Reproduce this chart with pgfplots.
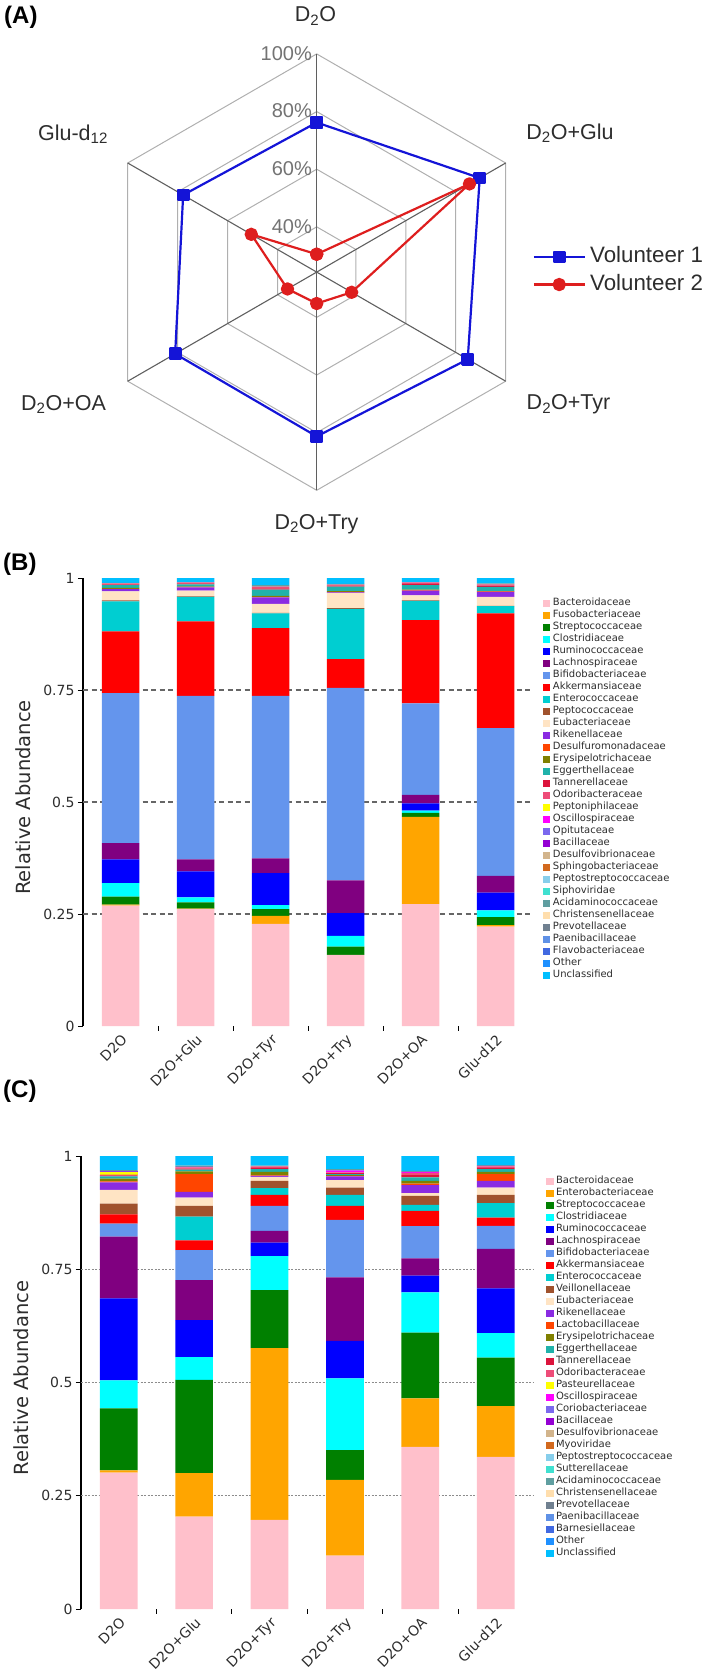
\documentclass[border=0pt]{standalone}
\usepackage{pgfplots}
\pgfplotsset{compat=1.18}
\usepackage{pgfplotstable}
\usepackage{fontspec}
\setmainfont{DejaVu Sans}
\newfontfamily\arial{Liberation Sans}

\definecolor{Bacteroidaceae}{RGB}{255,192,203}
\definecolor{Fusobacteriaceae}{RGB}{255,165,0}
\definecolor{Enterobacteriaceae}{RGB}{255,165,0}
\definecolor{Streptococcaceae}{RGB}{0,128,0}
\definecolor{Clostridiaceae}{RGB}{0,255,255}
\definecolor{Ruminococcaceae}{RGB}{0,0,255}
\definecolor{Lachnospiraceae}{RGB}{128,0,128}
\definecolor{Bifidobacteriaceae}{RGB}{100,149,237}
\definecolor{Akkermansiaceae}{RGB}{255,0,0}
\definecolor{Enterococcaceae}{RGB}{0,206,209}
\definecolor{Peptococcaceae}{RGB}{160,82,45}
\definecolor{Veillonellaceae}{RGB}{160,82,45}
\definecolor{Eubacteriaceae}{RGB}{255,228,196}
\definecolor{Rikenellaceae}{RGB}{138,43,226}
\definecolor{Desulfuromonadaceae}{RGB}{255,69,0}
\definecolor{Lactobacillaceae}{RGB}{255,69,0}
\definecolor{Erysipelotrichaceae}{RGB}{128,128,0}
\definecolor{Eggerthellaceae}{RGB}{32,178,170}
\definecolor{Tannerellaceae}{RGB}{220,20,60}
\definecolor{Odoribacteraceae}{RGB}{238,76,120}
\definecolor{Peptoniphilaceae}{RGB}{255,255,0}
\definecolor{Pasteurellaceae}{RGB}{255,255,0}
\definecolor{Oscillospiraceae}{RGB}{255,0,255}
\definecolor{Opitutaceae}{RGB}{123,104,238}
\definecolor{Coriobacteriaceae}{RGB}{123,104,238}
\definecolor{Bacillaceae}{RGB}{148,0,211}
\definecolor{Desulfovibrionaceae}{RGB}{210,180,140}
\definecolor{Sphingobacteriaceae}{RGB}{210,105,30}
\definecolor{Myoviridae}{RGB}{210,105,30}
\definecolor{Peptostreptococcaceae}{RGB}{135,206,235}
\definecolor{Siphoviridae}{RGB}{64,224,208}
\definecolor{Sutterellaceae}{RGB}{64,224,208}
\definecolor{Acidaminococcaceae}{RGB}{95,158,160}
\definecolor{Christensenellaceae}{RGB}{255,222,173}
\definecolor{Prevotellaceae}{RGB}{112,128,144}
\definecolor{Paenibacillaceae}{RGB}{95,145,230}
\definecolor{Flavobacteriaceae}{RGB}{65,105,225}
\definecolor{Barnesiellaceae}{RGB}{65,105,225}
\definecolor{Other}{RGB}{30,144,255}
\definecolor{Unclassified}{RGB}{0,191,255}

\definecolor{volA}{RGB}{20,20,215}
\definecolor{volB}{RGB}{222,30,30}
\definecolor{hexgray}{RGB}{175,175,175}
\definecolor{spokegray}{RGB}{95,95,95}
\definecolor{pctgray}{RGB}{115,115,115}
\definecolor{txt}{RGB}{45,45,45}

\newcommand{\fb}[7]{\addplot[fill=#1, draw=none] coordinates {(0,#2) (1,#3) (2,#4) (3,#5) (4,#6) (5,#7)}; \addlegendentry{#1}}

\pgfplotsset{
  ybar legend/.style={legend image code/.code={\fill[##1] (0bp,-3.65bp) rectangle (7.3bp,3.65bp);}},
  barpanel/.style={
    scale only axis, xmin=-0.5, xmax=5.5, ymin=0, ymax=1,
    ybar stacked, bar width=0.5, clip=false,
    axis lines*=left,
    x axis line style={draw=none},
    y axis line style={line width=1.3bp, black},
    xtick={0,1,2,3,4,5},
    xticklabels={D2O,D2O+Glu,D2O+Tyr,D2O+Try,D2O+OA,Glu-d12},
    xtick style={draw=none},
    ytick={0,0.25,0.5,0.75,1},
    yticklabels={0,0.25,0.5,0.75,1},
    ytick style={line width=1bp, black},
    tick align=outside, major tick length=5bp,
    tick label style={font=\fontsize{14bp}{16bp}\selectfont, text=txt},
    xticklabel style={rotate=45, anchor=north east, inner sep=1.5bp},
    ylabel={Relative Abundance},
    ylabel style={font=\fontsize{19.5bp}{22bp}\selectfont, text=txt, at={(axis description cs:-0.133,0.51)}, anchor=center},
    extra y ticks={0.25,0.5,0.75},
    extra y tick labels={},
    legend cell align=left,
    legend image code/.code={\fill[##1] (0bp,-3.65bp) rectangle (7.3bp,3.65bp);},
    legend style={draw=none, fill=none, anchor=north west, inner sep=0pt, row sep=2bp,
      font=\fontsize{10bp}{12bp}\selectfont, text=txt,
      nodes={inner ysep=0pt, inner xsep=2.5bp, text height=7.5bp, text depth=2.5bp}},
  }
}

\pgfplotstableread{
ang v1 v2
90 76.2 30.5
30 89.6 85.5
-30 84.8 38.3
-90 81.3 35.2
-150 81.0 36.0
150 77.8 50.5
90 76.2 30.5
}\radar

\begin{document}
\begin{tikzpicture}
\path[use as bounding box] (0,0) rectangle (709bp,-1672bp);

% ---------------- Panel A: radar ----------------
\begin{axis}[
  at={(98.5bp,-490.3bp)}, anchor=south west, scale only axis,
  width=436.4bp, height=436.4bp,
  xmin=-75.7, xmax=75.7, ymin=-75.7, ymax=75.7,
  hide axis, clip=false,
  legend style={draw=none, fill=none, at={(axis description cs:0.9947,0.503)}, anchor=west,
    inner sep=0pt, row sep=7bp, font=\arial\fontsize{22.3bp}{26bp}\selectfont, text=txt,
    nodes={inner ysep=0pt, inner xsep=4.5bp, text height=16bp, text depth=4.5bp}},
  legend cell align=left,
  legend image code/.code={\draw[mark repeat=2,mark phase=2,#1] plot coordinates {(0bp,0bp) (25.35bp,0bp) (50.7bp,0bp)};},
]
\addplot[forget plot, draw=hexgray, line width=1bp, data cs=polar] coordinates {(90,75.7) (30,75.7) (-30,75.7) (-90,75.7) (-150,75.7) (150,75.7) (90,75.7)};
\addplot[forget plot, draw=hexgray, line width=1bp, data cs=polar] coordinates {(90,55.7) (30,55.7) (-30,55.7) (-90,55.7) (-150,55.7) (150,55.7) (90,55.7)};
\addplot[forget plot, draw=hexgray, line width=1bp, data cs=polar] coordinates {(90,35.7) (30,35.7) (-30,35.7) (-90,35.7) (-150,35.7) (150,35.7) (90,35.7)};
\addplot[forget plot, draw=hexgray, line width=1bp, data cs=polar] coordinates {(90,15.7) (30,15.7) (-30,15.7) (-90,15.7) (-150,15.7) (150,15.7) (90,15.7)};
\addplot[forget plot, draw=spokegray, line width=1.1bp, data cs=polar] coordinates {(90,75.7) (-90,75.7)};
\addplot[forget plot, draw=spokegray, line width=1.1bp, data cs=polar] coordinates {(30,75.7) (-150,75.7)};
\addplot[forget plot, draw=spokegray, line width=1.1bp, data cs=polar] coordinates {(150,75.7) (-30,75.7)};
\addplot[volA, line width=2.2bp, line join=round, mark=square*, mark size=5.3bp, mark options={solid, fill=volA}, data cs=polar]
  table[x=ang, y expr=\thisrow{v1}-24.3]{\radar};
\addlegendentry{Volunteer 1}
\addplot[volB, line width=2.2bp, line join=round, mark=*, mark size=5.6bp, mark options={solid, fill=volB}, data cs=polar]
  table[x=ang, y expr=\thisrow{v2}-24.3]{\radar};
\addlegendentry{Volunteer 2}
\end{axis}

\begin{scope}[every node/.style={font=\arial\fontsize{21.5bp}{25bp}\selectfont, text=txt}]
\node at (315.5bp,-16bp) {D\textsubscript{2}O};
\node at (570bp,-133bp) {D\textsubscript{2}O+Glu};
\node at (568.5bp,-404.5bp) {D\textsubscript{2}O+Tyr};
\node at (316.5bp,-524bp) {D\textsubscript{2}O+Try};
\node at (63.5bp,-404.5bp) {D\textsubscript{2}O+OA};
\node at (73bp,-134bp) {Glu-d\textsubscript{12}};
\end{scope}
\begin{scope}[every node/.style={font=\arial\fontsize{20bp}{22bp}\selectfont, text=pctgray, anchor=east, inner sep=0pt}]
\node at (312bp,-53.6bp) {100\%};
\node at (312bp,-110.7bp) {80\%};
\node at (312bp,-169bp) {60\%};
\node at (312bp,-226.8bp) {40\%};
\end{scope}

\node[anchor=north west, inner sep=0pt, font=\arial\bfseries\fontsize{24bp}{26bp}\selectfont] at (4bp,-6bp) {(A)};
\node[anchor=north west, inner sep=0pt, font=\arial\bfseries\fontsize{24bp}{26bp}\selectfont] at (3bp,-553bp) {(B)};
\node[anchor=north west, inner sep=0pt, font=\arial\bfseries\fontsize{24bp}{26bp}\selectfont] at (3bp,-1080bp) {(C)};

% ---------------- Panel B ----------------
\begin{axis}[barpanel,
  at={(83bp,-1026bp)}, anchor=south west, width=450bp, height=448bp,
  extra y tick style={grid=major, major grid style={draw=black!60, line width=1.3bp, dash pattern=on 5bp off 3.5bp}},
  legend style={at={(axis description cs:1.0222,0.9554)}},
]
\fb{Bacteroidaceae}{0.269}{0.261}{0.228}{0.159}{0.272}{0.222}
\fb{Fusobacteriaceae}{0.002}{0.001}{0.018}{0}{0.195}{0.003}
\fb{Streptococcaceae}{0.018}{0.014}{0.015}{0.018}{0.009}{0.018}
\fb{Clostridiaceae}{0.030}{0.011}{0.009}{0.024}{0.005}{0.015}
\fb{Ruminococcaceae}{0.053}{0.058}{0.071}{0.051}{0.016}{0.040}
\fb{Lachnospiraceae}{0.036}{0.027}{0.033}{0.073}{0.019}{0.037}
\fb{Bifidobacteriaceae}{0.335}{0.365}{0.363}{0.430}{0.204}{0.330}
\fb{Akkermansiaceae}{0.138}{0.166}{0.151}{0.064}{0.186}{0.256}
\fb{Enterococcaceae}{0.067}{0.055}{0.033}{0.112}{0.043}{0.016}
\fb{Peptococcaceae}{0.002}{0.001}{0.001}{0.002}{0.001}{0.001}
\fb{Eubacteriaceae}{0.020}{0.013}{0.020}{0.033}{0.011}{0.020}
\fb{Rikenellaceae}{0.005}{0.007}{0.015}{0.002}{0.011}{0.011}
\fb{Desulfuromonadaceae}{0.001}{0.001}{0.001}{0.001}{0.001}{0.001}
\fb{Erysipelotrichaceae}{0.002}{0.001}{0.002}{0.002}{0.001}{0.001}
\fb{Eggerthellaceae}{0.006}{0.005}{0.014}{0.010}{0.010}{0.009}
\fb{Tannerellaceae}{0.002}{0.002}{0.003}{0.002}{0.003}{0.003}
\fb{Odoribacteraceae}{0.002}{0.002}{0.004}{0.002}{0.003}{0.003}
\fb{Peptoniphilaceae}{0}{0}{0}{0}{0}{0}
\fb{Oscillospiraceae}{0}{0}{0}{0}{0}{0}
\fb{Opitutaceae}{0}{0}{0}{0}{0}{0}
\fb{Bacillaceae}{0}{0}{0}{0}{0}{0}
\fb{Desulfovibrionaceae}{0}{0}{0}{0}{0}{0}
\fb{Sphingobacteriaceae}{0}{0}{0}{0}{0}{0}
\fb{Peptostreptococcaceae}{0}{0}{0}{0}{0}{0}
\fb{Siphoviridae}{0}{0}{0}{0}{0}{0}
\fb{Acidaminococcaceae}{0.001}{0}{0.003}{0.002}{0}{0.002}
\fb{Christensenellaceae}{0}{0}{0}{0}{0}{0}
\fb{Prevotellaceae}{0}{0}{0}{0}{0}{0}
\fb{Paenibacillaceae}{0}{0}{0}{0}{0}{0}
\fb{Flavobacteriaceae}{0}{0}{0}{0}{0}{0}
\fb{Other}{0}{0}{0}{0}{0}{0}
\fb{Unclassified}{0.011}{0.010}{0.016}{0.013}{0.010}{0.012}
\draw[line width=1bp, black] (axis cs:0.5,0) -- ++(0pt,-5bp) (axis cs:1.5,0) -- ++(0pt,-5bp) (axis cs:2.5,0) -- ++(0pt,-5bp) (axis cs:3.5,0) -- ++(0pt,-5bp) (axis cs:4.5,0) -- ++(0pt,-5bp);
\end{axis}

% ---------------- Panel C ----------------
\begin{axis}[barpanel,
  at={(81bp,-1609bp)}, anchor=south west, width=452.4bp, height=453bp,
  extra y tick style={grid=major, major grid style={draw=black!45, line width=0.8bp, dash pattern=on 2bp off 1.5bp}},
  legend style={at={(axis description cs:1.0279,0.9558)}},
]
\fb{Bacteroidaceae}{0.301}{0.204}{0.197}{0.118}{0.358}{0.336}
\fb{Enterobacteriaceae}{0.005}{0.096}{0.379}{0.167}{0.107}{0.112}
\fb{Streptococcaceae}{0.137}{0.206}{0.128}{0.066}{0.145}{0.107}
\fb{Clostridiaceae}{0.062}{0.050}{0.075}{0.158}{0.089}{0.054}
\fb{Ruminococcaceae}{0.181}{0.082}{0.030}{0.083}{0.037}{0.099}
\fb{Lachnospiraceae}{0.136}{0.088}{0.026}{0.140}{0.038}{0.087}
\fb{Bifidobacteriaceae}{0.029}{0.066}{0.055}{0.127}{0.071}{0.051}
\fb{Akkermansiaceae}{0.020}{0.022}{0.024}{0.031}{0.034}{0.018}
\fb{Enterococcaceae}{0}{0.052}{0.015}{0.024}{0.013}{0.032}
\fb{Veillonellaceae}{0.024}{0.024}{0.016}{0.016}{0.020}{0.018}
\fb{Eubacteriaceae}{0.030}{0.018}{0.009}{0.017}{0.006}{0.016}
\fb{Rikenellaceae}{0.017}{0.013}{0.002}{0.008}{0.018}{0.015}
\fb{Lactobacillaceae}{0.002}{0.039}{0.001}{0.001}{0.003}{0.015}
\fb{Erysipelotrichaceae}{0.006}{0.006}{0.008}{0.002}{0.006}{0.005}
\fb{Eggerthellaceae}{0.005}{0.004}{0.006}{0.002}{0.008}{0.006}
\fb{Tannerellaceae}{0.002}{0.002}{0.003}{0.002}{0.005}{0.003}
\fb{Odoribacteraceae}{0.002}{0.003}{0.003}{0.002}{0.005}{0.003}
\fb{Pasteurellaceae}{0.005}{0}{0}{0}{0}{0}
\fb{Oscillospiraceae}{0.001}{0.001}{0}{0.004}{0.002}{0.001}
\fb{Coriobacteriaceae}{0.001}{0}{0}{0.001}{0}{0}
\fb{Bacillaceae}{0.001}{0}{0}{0}{0}{0}
\fb{Desulfovibrionaceae}{0}{0}{0}{0}{0}{0}
\fb{Myoviridae}{0}{0}{0}{0}{0}{0}
\fb{Peptostreptococcaceae}{0}{0}{0}{0}{0}{0}
\fb{Sutterellaceae}{0}{0}{0}{0}{0}{0}
\fb{Acidaminococcaceae}{0.002}{0.003}{0.002}{0.002}{0.002}{0.002}
\fb{Christensenellaceae}{0}{0}{0}{0}{0}{0}
\fb{Prevotellaceae}{0}{0}{0}{0}{0}{0}
\fb{Paenibacillaceae}{0}{0}{0}{0}{0}{0}
\fb{Barnesiellaceae}{0}{0}{0}{0}{0}{0}
\fb{Other}{0}{0}{0}{0}{0}{0}
\fb{Unclassified}{0.031}{0.021}{0.021}{0.029}{0.033}{0.020}
\draw[line width=1bp, black] (axis cs:0.5,0) -- ++(0pt,-5bp) (axis cs:1.5,0) -- ++(0pt,-5bp) (axis cs:2.5,0) -- ++(0pt,-5bp) (axis cs:3.5,0) -- ++(0pt,-5bp) (axis cs:4.5,0) -- ++(0pt,-5bp);
\end{axis}
\end{tikzpicture}
\end{document}
